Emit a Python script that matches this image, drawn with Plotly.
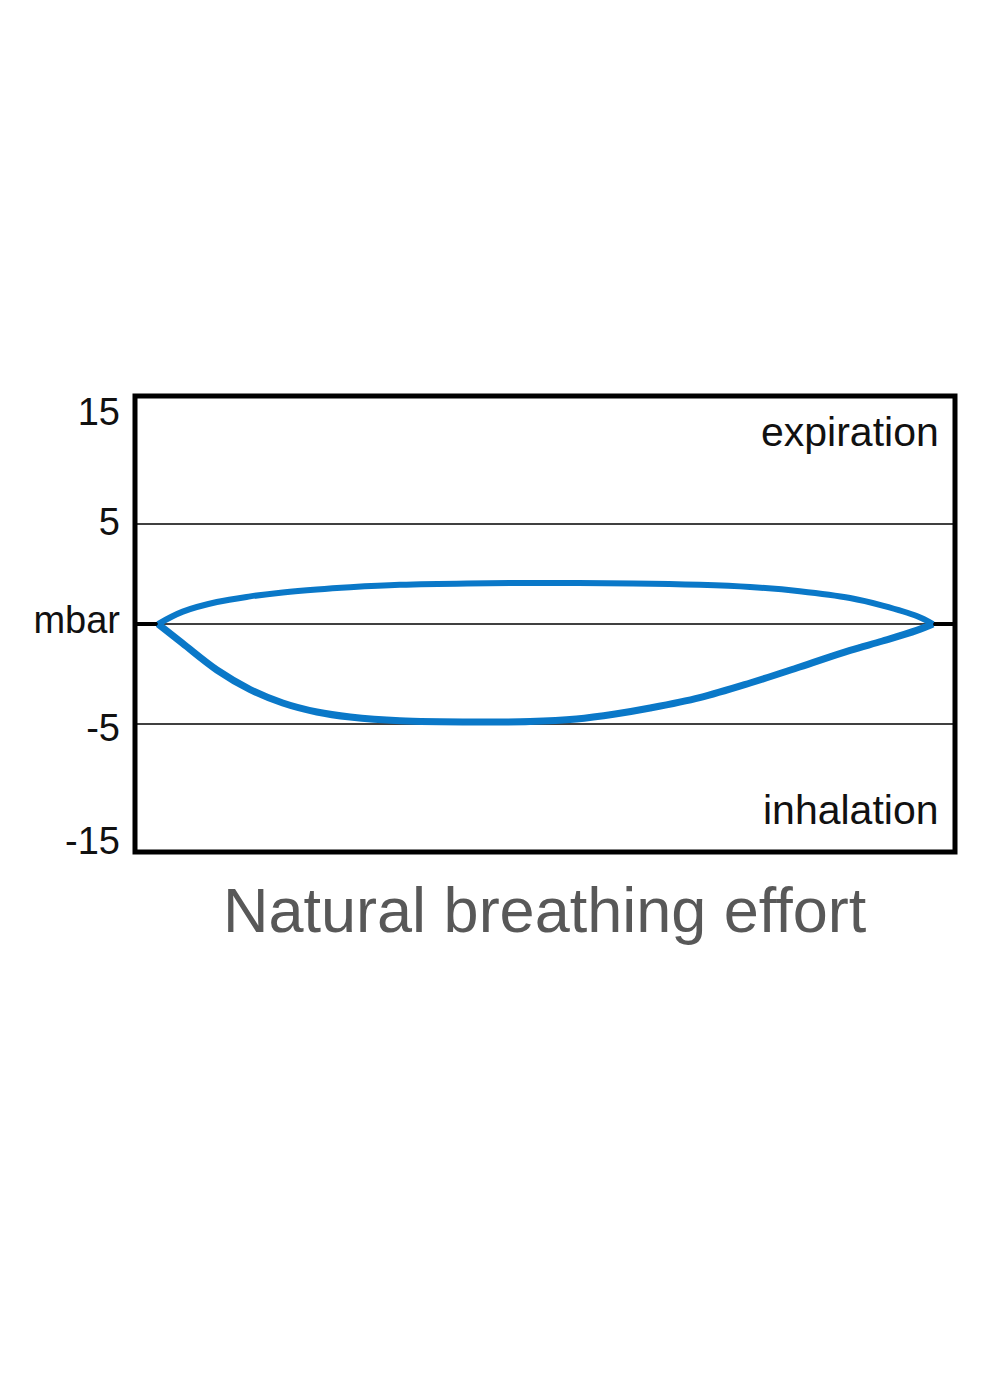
import plotly.graph_objects as go

# breathing cycle position (% of the cycle) and pressure (mbar)
exp_cycle = [0, 3.2, 7.6, 11.9, 16.1, 20.5, 24.8, 31.2, 39.9, 50.6, 61.3, 69.9, 76.4, 82.8, 89.3, 93.5, 97.9, 100]
exp_mbar = [0, 0.62, 1.1, 1.38, 1.58, 1.73, 1.84, 1.96, 2.03, 2.05, 2.03, 1.96, 1.85, 1.64, 1.3, 0.92, 0.4, 0]

inh_cycle = [0, 3.2, 7.6, 11.9, 16.1, 20.5, 24.8, 31.2, 41.5, 48.0, 54.0, 59.0, 63.5, 69.9, 76.4, 82.8, 89.3, 93.5, 97.9, 100]
inh_mbar = [0, -0.98, -2.3, -3.28, -3.95, -4.4, -4.65, -4.84, -4.9, -4.88, -4.75, -4.5, -4.2, -3.68, -2.95, -2.15, -1.32, -0.85, -0.32, 0]

# schematic axis: labels sit where the drawing puts them
tick_pos = [10.6, 5.1, 0.2, -5.2, -10.85]
tick_text = ["15", "5", "mbar", "-5", "-15"]
grid_levels = [5, 0, -5]

BLUE = "#0a78c8"
X_RANGE = [-2.97, 102.84]
Y_RANGE = [-11.4, 11.4]
FONT = "Liberation Sans, Arial, sans-serif"

fig = go.Figure()

fig.add_trace(go.Scatter(
    x=exp_cycle, y=exp_mbar, mode="lines",
    line=dict(color=BLUE, width=6, shape="spline", smoothing=1.0),
    showlegend=False, hoverinfo="skip"
))
fig.add_trace(go.Scatter(
    x=inh_cycle, y=inh_mbar, mode="lines",
    line=dict(color=BLUE, width=7, shape="spline", smoothing=1.0),
    showlegend=False, hoverinfo="skip"
))

shapes = []
for lvl in grid_levels:
    shapes.append(dict(type="line", xref="paper", x0=0, x1=1, yref="y", y0=lvl, y1=lvl,
                       line=dict(color="black", width=1.5), layer="below"))
# heavier zero line between the frame and the loop tips
shapes.append(dict(type="line", xref="x", x0=X_RANGE[0], x1=exp_cycle[0], yref="y", y0=0, y1=0,
                   line=dict(color="black", width=4), layer="below"))
shapes.append(dict(type="line", xref="x", x0=exp_cycle[-1], x1=X_RANGE[1], yref="y", y0=0, y1=0,
                   line=dict(color="black", width=4), layer="below"))
shapes.append(dict(type="rect", xref="paper", yref="paper", x0=0, x1=1, y0=0, y1=1,
                   line=dict(color="black", width=5)))

annotations = [
    dict(text="expiration", xref="paper", x=0.983, xanchor="right", yref="y", y=9.6, yanchor="middle",
         showarrow=False, font=dict(family=FONT, size=41, color="#111111")),
    dict(text="inhalation", xref="paper", x=0.983, xanchor="right", yref="y", y=-9.3, yanchor="middle",
         showarrow=False, font=dict(family=FONT, size=41, color="#111111")),
    dict(text="Natural breathing effort", xref="paper", x=0.5, xanchor="center", yref="paper", y=-0.128,
         yanchor="middle", showarrow=False, font=dict(family=FONT, size=63, color="#585858")),
]

fig.update_layout(
    width=1000, height=1400,
    margin=dict(l=127, r=53, t=388, b=556),
    plot_bgcolor="white", paper_bgcolor="white",
    xaxis=dict(range=X_RANGE, visible=False, showgrid=False, zeroline=False),
    yaxis=dict(
        range=Y_RANGE, tickvals=tick_pos, ticktext=tick_text,
        showgrid=False, zeroline=False, ticks="", ticklabelstandoff=14,
        tickfont=dict(family=FONT, size=38, color="#111111")
    ),
    shapes=shapes,
    annotations=annotations,
)

fig.write_html("out.html")
